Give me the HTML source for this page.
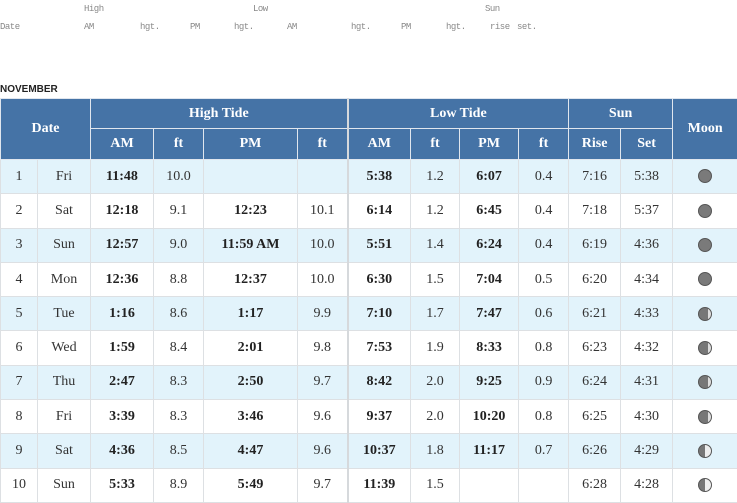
<!DOCTYPE html>
<html><head><meta charset="utf-8"><style>
body{margin:0;width:737px;height:502px;overflow:hidden;background:#fff;font-family:"Liberation Serif",serif;position:relative}
.top{position:absolute;font-family:"Liberation Mono",monospace;font-size:9px;color:#888;letter-spacing:-0.5px}
#month{position:absolute;left:0;top:84px;font-family:"Liberation Sans",sans-serif;font-weight:bold;font-size:10px;color:#222}
table{position:absolute;left:0;top:98px;border-collapse:collapse;table-layout:fixed;width:737px}
th{background:#4573a6;color:#fff;font-weight:bold;font-size:14px;border:1px solid #e0e6ee;padding:0}
tr.h1 th{height:29px}tr.h2 th{height:30px}
td{height:33.3px;border:1px solid #dde0e3;text-align:center;font-size:14px;color:#333;padding:0}
tr.d:nth-child(odd) td{background:#e2f3fb}
td.b{font-weight:bold;color:#222}
.g{border-left:2px solid #d6d9dc}
.moon{display:inline-block;width:14px;height:14px;border-radius:50%;background:#7a7a7a;border:1px solid #555;box-sizing:border-box;vertical-align:middle}
</style></head><body>
<div class="top" style="left:84px;top:4px">High</div>
<div class="top" style="left:253px;top:4px">Low</div>
<div class="top" style="left:485px;top:4px">Sun</div>
<div class="top" style="left:0;top:22px">Date</div>
<div class="top" style="left:84px;top:22px">AM</div>
<div class="top" style="left:140px;top:22px">hgt.</div>
<div class="top" style="left:190px;top:22px">PM</div>
<div class="top" style="left:234px;top:22px">hgt.</div>
<div class="top" style="left:287px;top:22px">AM</div>
<div class="top" style="left:351px;top:22px">hgt.</div>
<div class="top" style="left:401px;top:22px">PM</div>
<div class="top" style="left:446px;top:22px">hgt.</div>
<div class="top" style="left:490px;top:22px">rise</div>
<div class="top" style="left:517px;top:22px">set.</div>
<div id="month">NOVEMBER</div>
<table>
<colgroup><col style="width:37px"><col style="width:53px"><col style="width:63px"><col style="width:50px"><col style="width:94px"><col style="width:50px"><col style="width:63px"><col style="width:49px"><col style="width:59px"><col style="width:50px"><col style="width:52px"><col style="width:52px"><col style="width:65px"></colgroup>
<tr class="h1"><th colspan="2" rowspan="2">Date</th><th colspan="4">High Tide</th><th colspan="4" class="g">Low Tide</th><th colspan="2">Sun</th><th rowspan="2">Moon</th></tr>
<tr class="h2"><th>AM</th><th>ft</th><th>PM</th><th>ft</th><th class="g">AM</th><th>ft</th><th>PM</th><th>ft</th><th>Rise</th><th>Set</th></tr>
<tbody id="body"></tbody>
</table>
<script>
const rows=[
["1","Fri","11:48","10.0","","","5:38","1.2","6:07","0.4","7:16","5:38",0],
["2","Sat","12:18","9.1","12:23","10.1","6:14","1.2","6:45","0.4","7:18","5:37",0],
["3","Sun","12:57","9.0","11:59 AM","10.0","5:51","1.4","6:24","0.4","6:19","4:36",0],
["4","Mon","12:36","8.8","12:37","10.0","6:30","1.5","7:04","0.5","6:20","4:34",0],
["5","Tue","1:16","8.6","1:17","9.9","7:10","1.7","7:47","0.6","6:21","4:33",1],
["6","Wed","1:59","8.4","2:01","9.8","7:53","1.9","8:33","0.8","6:23","4:32",1],
["7","Thu","2:47","8.3","2:50","9.7","8:42","2.0","9:25","0.9","6:24","4:31",1],
["8","Fri","3:39","8.3","3:46","9.6","9:37","2.0","10:20","0.8","6:25","4:30",1],
["9","Sat","4:36","8.5","4:47","9.6","10:37","1.8","11:17","0.7","6:26","4:29",2],
["10","Sun","5:33","8.9","5:49","9.7","11:39","1.5","","","6:28","4:28",2]];
const bold=[2,4,6,8];
const tb=document.getElementById('body');
rows.forEach(r=>{
 const tr=document.createElement('tr');tr.className='d';
 
 
 for(let i=0;i<12;i++){
  const td=document.createElement('td');td.textContent=r[i];
  if(bold.includes(i))td.className='b';
  if(i==6)td.className+=' g';
  
  
  tr.appendChild(td);
 }
 const td=document.createElement('td');
 
 
 const m=document.createElement('span');m.className='moon';
 
 
 if(r[12]==1)m.style.background='linear-gradient(90deg,#777 75%,#ddd 75%)';
 if(r[12]==2)m.style.background='linear-gradient(90deg,#777 50%,#eee 50%)';
 td.appendChild(m);tr.appendChild(td);tb.appendChild(tr);
});
</script>
</body></html>
